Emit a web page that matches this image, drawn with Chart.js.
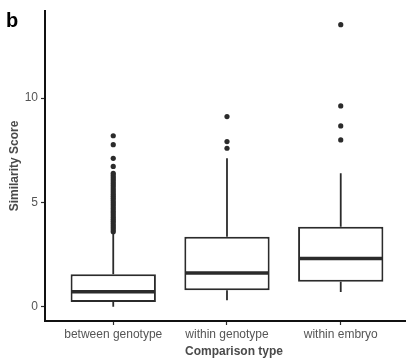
<!DOCTYPE html>
<html>
<head>
<meta charset="utf-8">
<script src="https://cdn.jsdelivr.net/npm/chart.js@4.4.1/dist/chart.umd.min.js"></script>
<style>
  html, body { margin: 0; padding: 0; background: #fff; }
  #wrap { width: 409px; height: 360px; }
</style>
</head>
<body>
<div id="wrap"><canvas id="boxChart" width="409" height="360"></canvas></div>
<script>
// categories and box statistics
const categories = ["between genotype", "within genotype", "within embryo"];
const categoryPositions = [1, 2, 3];
const q1Values = [0.24, 0.80, 1.20];
const medianValues = [0.73, 1.62, 2.32];
const q3Values = [1.56, 3.36, 3.84];
const whiskerLow = [0.01, 0.32, 0.72];
const whiskerHigh = [3.55, 7.12, 6.40];

// outliers (the first group is a dense column of points)
const outliersBetweenGenotype = [
    3.6, 3.7, 3.8, 3.9, 4.0, 4.1, 4.2, 4.3, 4.4, 4.5, 4.6, 4.7, 4.8, 4.9, 5.0,
    5.1, 5.2, 5.3, 5.4, 5.5, 5.6, 5.7, 5.8, 5.9, 6.0, 6.1, 6.2, 6.3, 6.4,
    6.73, 7.12, 7.77, 8.2,
];
const outliersWithinGenotype = [7.6, 7.92, 9.12];
const outliersWithinEmbryo = [8.0, 8.67, 9.63, 13.52];

const yTicks = [0, 5, 10];
const yMin = -0.675;
const yMax = 14.175;

const LINE = "#2b2b2b";
const TEXT = "#555555";
const TITLE = "#4a4a4a";
const FONT = "'Liberation Sans', Arial, Helvetica, sans-serif";

const outlierPoints = [];
[outliersBetweenGenotype, outliersWithinGenotype, outliersWithinEmbryo].forEach((list, i) => {
    list.forEach(v => outlierPoints.push({ x: categoryPositions[i], y: v }));
});

// whiskers behind the boxes, median on top, panel letter and x title
const boxExtras = {
    id: "boxExtras",
    beforeDatasetsDraw(chart) {
        const ctx = chart.ctx;
        const y = chart.scales.y;
        const bars = chart.getDatasetMeta(0).data;
        ctx.save();
        ctx.strokeStyle = LINE;
        ctx.lineWidth = 1.8;
        bars.forEach((bar, i) => {
            ctx.beginPath();
            ctx.moveTo(bar.x, y.getPixelForValue(q3Values[i]));
            ctx.lineTo(bar.x, y.getPixelForValue(whiskerHigh[i]));
            ctx.moveTo(bar.x, y.getPixelForValue(q1Values[i]));
            ctx.lineTo(bar.x, y.getPixelForValue(whiskerLow[i]));
            ctx.stroke();
        });
        ctx.restore();
    },
    afterDatasetsDraw(chart) {
        const ctx = chart.ctx;
        const y = chart.scales.y;
        const bars = chart.getDatasetMeta(0).data;
        ctx.save();
        ctx.strokeStyle = LINE;
        ctx.lineWidth = 3.5;
        bars.forEach((bar, i) => {
            const py = y.getPixelForValue(medianValues[i]);
            ctx.beginPath();
            ctx.moveTo(bar.x - bar.width / 2 + 1, py);
            ctx.lineTo(bar.x + bar.width / 2 - 1, py);
            ctx.stroke();
        });
        ctx.restore();
    },
    afterDraw(chart) {
        const ctx = chart.ctx;
        const area = chart.chartArea;
        ctx.save();
        ctx.fillStyle = "#000";
        ctx.font = "bold 20px " + FONT;
        ctx.textBaseline = "alphabetic";
        ctx.fillText("b", 6, 27);
        // x axis title, centred a little right of the plot area like the original
        ctx.fillStyle = TITLE;
        ctx.font = "bold 12px " + FONT;
        ctx.textAlign = "center";
        ctx.textBaseline = "middle";
        ctx.fillText("Comparison type", (area.left + area.right) / 2 + 9, 352);
        ctx.restore();
    },
};

new Chart(document.getElementById("boxChart"), {
    type: "bar",
    data: {
        datasets: [
            {
                label: "box",
                data: categoryPositions.map((x, i) => ({ x: x, y: [q1Values[i], q3Values[i]] })),
                backgroundColor: "#ffffff",
                borderColor: LINE,
                borderWidth: 2,
                borderSkipped: false,
                barPercentage: 0.75,
                categoryPercentage: 1,
                order: 2,
            },
            {
                type: "scatter",
                label: "outliers",
                data: outlierPoints,
                pointRadius: 2.6,
                pointBackgroundColor: LINE,
                pointBorderWidth: 0,
                order: 1,
            },
        ],
    },
    options: {
        responsive: false,
        animation: false,
        layout: { padding: { top: 11, right: 0, left: 7, bottom: 0 } },
        plugins: {
            legend: { display: false },
            tooltip: { enabled: false },
        },
        scales: {
            x: {
                type: "linear",
                min: 0.4,
                max: 3.565,
                offset: false,
                afterBuildTicks: (scale) => {
                    scale.ticks = categoryPositions.map(v => ({ value: v }));
                },
                afterFit: (scale) => { scale.height = 39; },
                grid: { drawOnChartArea: false, offset: false, tickLength: 4, color: LINE, tickWidth: 1.2 },
                border: { display: true, color: "#111", width: 2 },
                ticks: {
                    color: TEXT,
                    padding: 2,
                    maxRotation: 0,
                    autoSkip: false,
                    font: { family: FONT, size: 12 },
                    callback: (v) => categories[categoryPositions.indexOf(v)] || "",
                },
                title: { display: false },
            },
            y: {
                min: yMin,
                max: yMax,
                afterBuildTicks: (scale) => {
                    scale.ticks = yTicks.map(v => ({ value: v }));
                },
                afterFit: (scale) => { scale.width = 38; },
                grid: { drawOnChartArea: false, tickLength: 4, color: LINE, tickWidth: 1.2 },
                border: { display: true, color: "#111", width: 2 },
                ticks: {
                    color: TEXT,
                    padding: 3,
                    font: { family: FONT, size: 12 },
                },
                title: {
                    display: true,
                    text: "Similarity Score",
                    color: TITLE,
                    padding: { top: 0, bottom: 4 },
                    font: { family: FONT, size: 12, weight: "bold" },
                },
            },
        },
    },
    plugins: [boxExtras],
});
</script>
</body>
</html>
